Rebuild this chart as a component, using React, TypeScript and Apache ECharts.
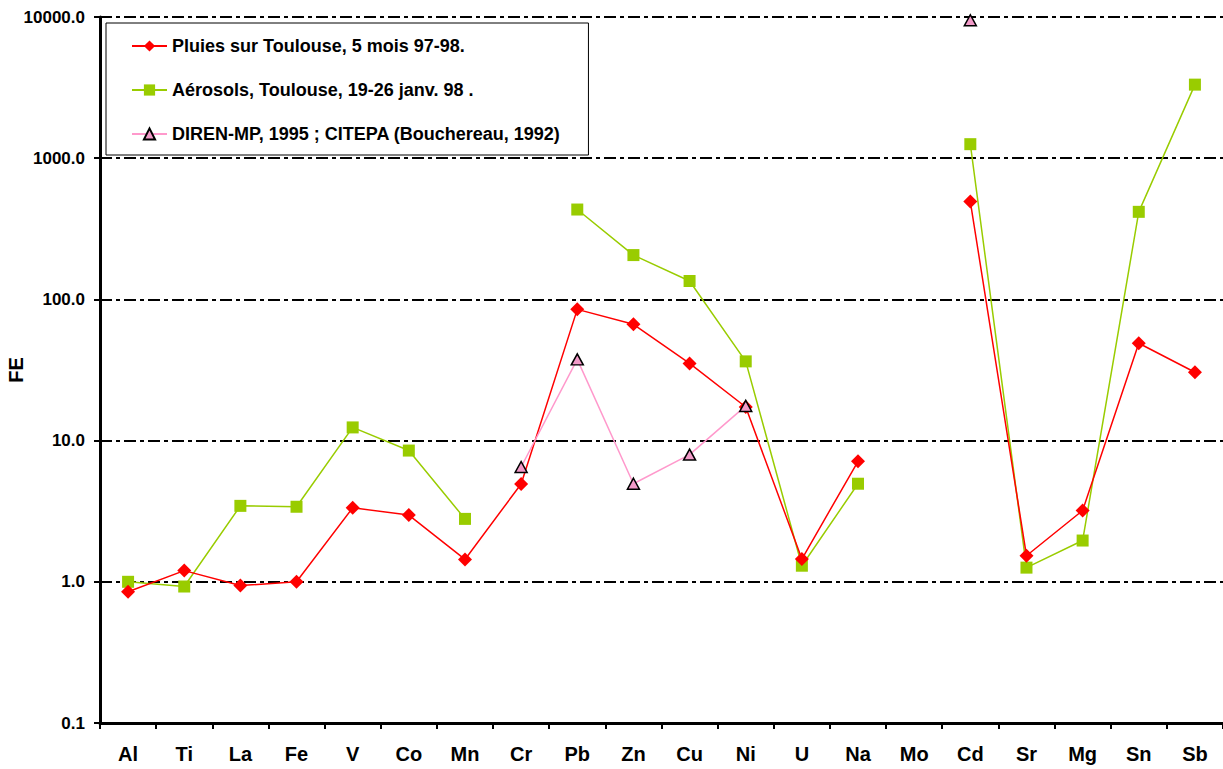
import React, { useEffect, useRef } from "react";
import * as echarts from "echarts";

const categories = ["Al", "Ti", "La", "Fe", "V", "Co", "Mn", "Cr", "Pb", "Zn", "Cu", "Ni", "U", "Na", "Mo", "Cd", "Sr", "Mg", "Sn", "Sb"];

const pluies: (number | null)[] = [0.85, 1.2, 0.94, 1.0, 3.34, 2.97, 1.44, 4.93, 85, 66.6, 35.2, 17.3, 1.45, 7.14, null, 493, 1.53, 3.2, 48.9, 30.5];
const aerosols: (number | null)[] = [1.0, 0.926, 3.45, 3.4, 12.4, 8.5, 2.79, null, 433, 206, 135, 36.4, 1.3, 4.95, null, 1257, 1.26, 1.96, 417, 3319];
const diren: (number | null)[] = [null, null, null, null, null, null, null, 6.5, 37.6, 4.95, 7.96, 17.6, null, null, null, 9480, null, null, null, null];

const seriesNames = [
  "Pluies sur Toulouse, 5 mois 97-98.",
  "Aérosols, Toulouse, 19-26 janv. 98 .",
  "DIREN-MP, 1995 ; CITEPA (Bouchereau, 1992)",
];

const FONT = "'Liberation Sans', Arial, sans-serif";

export default function App() {
  const ref = useRef<HTMLDivElement>(null);
  useEffect(() => {
    if (!ref.current) return;
    const chart = echarts.init(ref.current, null, { renderer: "svg" });
    chart.setOption({
      animation: false,
      backgroundColor: "#ffffff",
      textStyle: { fontFamily: FONT },
      grid: { left: 100, top: 17, right: 0, bottom: 46, containLabel: false, outerBoundsMode: "none" },
      legend: {
        orient: "vertical",
        left: 106,
        top: 23,
        padding: [13, 28, 11, 25],
        itemGap: 24,
        itemWidth: 35,
        itemHeight: 14,
        borderColor: "#000",
        borderWidth: 1,
        backgroundColor: "#fff",
        textStyle: { fontFamily: FONT, fontSize: 18, lineHeight: 20, fontWeight: "bold", color: "#000" },
        data: seriesNames,
      },
      xAxis: {
        type: "category",
        data: categories,
        boundaryGap: true,
        axisLine: { lineStyle: { color: "#000", width: 3 } },
        axisTick: { show: true, length: 6, lineStyle: { color: "#000", width: 2 }, alignWithLabel: false },
        axisLabel: { fontFamily: FONT, fontSize: 20, fontWeight: "bold", color: "#000", margin: 21, interval: 0 },
        splitLine: { show: false },
      },
      yAxis: {
        type: "log",
        logBase: 10,
        min: 0.1,
        max: 10000,
        name: "FE",
        nameLocation: "middle",
        nameGap: 74,
        nameRotate: 90,
        nameMoveOverlap: false,
        nameTextStyle: { fontFamily: FONT, fontSize: 20, fontWeight: "bold", color: "#000" },
        axisLine: { show: true, lineStyle: { color: "#000", width: 3 } },
        axisTick: { show: true, length: 6, lineStyle: { color: "#000", width: 2 } },
        axisLabel: {
          fontFamily: FONT,
          fontSize: 17,
          fontWeight: "bold",
          color: "#000",
          margin: 15,
          formatter: (v: number) => Number(v).toFixed(1),
        },
        splitLine: {
          show: true,
          lineStyle: { color: "#000", width: 2, type: [12, 4, 4, 4] },
        },
        minorTick: { show: false },
      },
      series: [
        {
          name: seriesNames[0],
          type: "line",
          data: pluies,
          connectNulls: false,
          symbol: "diamond",
          symbolSize: 14,
          itemStyle: { color: "#FF0000" },
          lineStyle: { color: "#FF0000", width: 1.5 },
          z: 4,
        },
        {
          name: seriesNames[1],
          type: "line",
          data: aerosols,
          connectNulls: false,
          symbol: "rect",
          symbolSize: 12,
          itemStyle: { color: "#99CC00" },
          lineStyle: { color: "#99CC00", width: 1.5 },
          z: 3,
        },
        {
          name: seriesNames[2],
          type: "line",
          data: diren,
          connectNulls: false,
          symbol: "triangle",
          symbolSize: [12, 11],
          itemStyle: { color: "#F29AC8", borderColor: "#000", borderWidth: 1.5 },
          lineStyle: { color: "#FF99CC", width: 1.5 },
          z: 5,
        },
      ],
    });
    return () => chart.dispose();
  }, []);
  return (
    <div
      ref={ref}
      style={{ position: "fixed", left: 0, top: 0, width: 1223, height: 769, background: "#fff" }}
    />
  );
}
